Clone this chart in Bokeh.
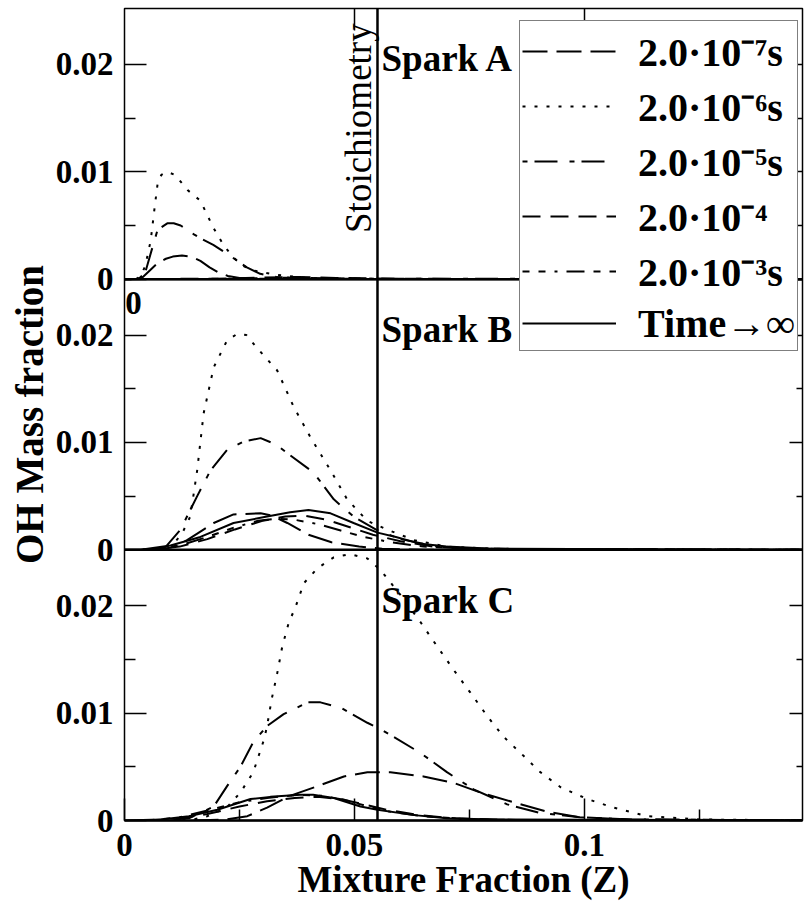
import math
from bokeh.plotting import figure
from bokeh.models import (Range1d, LinearAxis, FixedTicker, Span, Label,
                          Legend, LegendItem)
from bokeh.embed import file_html
from bokeh.resources import INLINE

FONT = "Liberation Serif"
Z_ST = 0.055          # stoichiometric mixture fraction
YMAX = 0.0252         # top of each panel
X_END = 0.1474

# ---------------- legend / series labels ----------------
LABELS = ["2.0\u00b710\u207b\u2077s", "2.0\u00b710\u207b\u2076s", "2.0\u00b710\u207b\u2075s",
          "2.0\u00b710\u207b\u2074", "2.0\u00b710\u207b\u00b3s", "Time\u2192\u221e"]
DASHES = ["25 9", "3 9", "5 7 23 12", "18 10", "7 9 7 9 3 9 18 9", "solid"]

# ---------------- Spark A ----------------
A_Z_7 = [0.0025, 0.004, 0.0055, 0.0072, 0.009, 0.0105, 0.0125, 0.0145, 0.0165, 0.0185, 0.0205, 0.0225, 0.025, 0.03, 0.15]
A_Y_7 = [0, 0.0002, 0.0008, 0.0015, 0.0019, 0.0021, 0.0022, 0.0021, 0.0017, 0.0011, 0.0006, 0.0003, 0.0001, 0.00003, 0]
A_Z_6 = [0.0025, 0.0035, 0.0045, 0.0057, 0.0065, 0.0072, 0.008, 0.0093, 0.011, 0.0137, 0.0165, 0.0193, 0.0215, 0.0237, 0.026, 0.028, 0.033, 0.04, 0.05, 0.15]
A_Y_6 = [0, 0.0003, 0.0012, 0.0036, 0.0065, 0.0089, 0.0097, 0.0100, 0.0097, 0.0083, 0.0073, 0.0048, 0.0032, 0.0020, 0.0012, 0.0008, 0.0004, 0.0001, 0.00002, 0]
A_Z_5 = [0.003, 0.0045, 0.0057, 0.0072, 0.0093, 0.0107, 0.0122, 0.015, 0.0165, 0.0193, 0.0222, 0.0266, 0.0295, 0.033, 0.04, 0.15]
A_Y_5 = [0, 0.0006, 0.0024, 0.0046, 0.0052, 0.0052, 0.0050, 0.0042, 0.0038, 0.0032, 0.0024, 0.0011, 0.0005, 0.0002, 0.00005, 0]
A_Z_4 = [0, 0.02, 0.03, 0.038, 0.046, 0.06, 0.15]
A_Y_4 = [0, 0.00005, 0.00015, 0.0002, 0.00012, 0.00003, 0]
A_Z_3 = [0, 0.02, 0.03, 0.036, 0.044, 0.06, 0.15]
A_Y_3 = [0, 0.00003, 0.0001, 0.00013, 0.00008, 0.00002, 0]
A_Z_I = [0, 0.15]
A_Y_I = [0, 0]

# ---------------- Spark B ----------------
B_Z_7 = [0.006, 0.01, 0.0136, 0.0165, 0.0194, 0.0237, 0.0296, 0.032, 0.0354, 0.04, 0.045, 0.051, 0.056, 0.065, 0.15]
B_Y_7 = [0, 0.0002, 0.0009, 0.0017, 0.0025, 0.0033, 0.0034, 0.0032, 0.0025, 0.0014, 0.0007, 0.0003, 0.0001, 0, 0]
B_Z_6 = [0.004, 0.008, 0.0107, 0.0125, 0.0143, 0.0158, 0.0172, 0.0194, 0.0223, 0.0245, 0.0265, 0.0288, 0.0332, 0.0368, 0.0404, 0.0448, 0.0484, 0.0528, 0.057, 0.063, 0.07, 0.08, 0.09, 0.15]
B_Y_6 = [0, 0.0001, 0.0006, 0.0015, 0.0031, 0.0074, 0.0127, 0.0170, 0.0195, 0.0201, 0.0200, 0.0188, 0.0167, 0.0133, 0.0105, 0.0074, 0.0047, 0.0027, 0.0019, 0.0009, 0.0003, 0.0001, 0.00003, 0]
B_Z_5 = [0.006, 0.009, 0.0122, 0.0158, 0.0187, 0.0223, 0.026, 0.0296, 0.033, 0.0354, 0.0411, 0.0455, 0.0498, 0.0546, 0.06, 0.067, 0.075, 0.15]
B_Y_5 = [0, 0.0003, 0.0019, 0.0050, 0.0074, 0.0093, 0.0101, 0.0104, 0.0098, 0.0090, 0.0072, 0.0047, 0.0031, 0.0019, 0.0010, 0.0004, 0.0001, 0]
B_Z_4 = [0.004, 0.012, 0.018, 0.024, 0.03, 0.035, 0.039, 0.044, 0.049, 0.054, 0.06, 0.067, 0.075, 0.15]
B_Y_4 = [0, 0.0003, 0.0010, 0.0019, 0.0027, 0.0031, 0.0032, 0.0028, 0.0021, 0.0014, 0.0008, 0.0003, 0.0001, 0]
B_Z_3 = [0.004, 0.012, 0.018, 0.024, 0.029, 0.033, 0.037, 0.042, 0.047, 0.052, 0.058, 0.065, 0.075, 0.15]
B_Y_3 = [0, 0.0004, 0.0012, 0.0021, 0.0027, 0.0029, 0.0028, 0.0024, 0.0018, 0.0012, 0.0007, 0.0003, 0.0001, 0]
B_Z_I = [0, 0.0035, 0.01, 0.0165, 0.0237, 0.031, 0.036, 0.04, 0.0448, 0.0498, 0.055, 0.059, 0.064, 0.07, 0.08, 0.15]
B_Y_I = [0, 0, 0.0004, 0.0012, 0.0025, 0.0031, 0.0035, 0.0037, 0.0034, 0.0025, 0.0016, 0.0012, 0.0006, 0.0003, 0.0001, 0]

# ---------------- Spark C ----------------
C_Z_7 = [0.015, 0.022, 0.0267, 0.031, 0.036, 0.042, 0.0477, 0.0528, 0.0578, 0.065, 0.0716, 0.0774, 0.0846, 0.092, 0.099, 0.11, 0.15]
C_Y_7 = [0, 0.0001, 0.0004, 0.0012, 0.0023, 0.0032, 0.0041, 0.0045, 0.0045, 0.0041, 0.0035, 0.0026, 0.0017, 0.0008, 0.0003, 0.0001, 0]
C_Z_6 = [0.01, 0.015, 0.018, 0.0222, 0.0252, 0.028, 0.0303, 0.031, 0.032, 0.0332, 0.0343, 0.0357, 0.0372, 0.039, 0.042, 0.0455, 0.049, 0.0528, 0.0557, 0.06, 0.0643, 0.068, 0.0716, 0.0752, 0.0789, 0.0824, 0.0868, 0.0904, 0.0948, 0.1006, 0.1063, 0.1137, 0.125, 0.15]
C_Y_6 = [0, 0.0001, 0.0004, 0.0012, 0.0026, 0.0045, 0.0075, 0.0088, 0.0113, 0.0137, 0.0162, 0.0184, 0.0199, 0.0221, 0.0235, 0.0245, 0.0248, 0.0244, 0.0233, 0.0210, 0.0185, 0.0162, 0.0140, 0.0119, 0.0097, 0.0078, 0.0060, 0.0045, 0.0031, 0.0020, 0.0012, 0.0004, 0.0001, 0]
C_Z_5 = [0.008, 0.014, 0.0194, 0.0223, 0.0252, 0.028, 0.031, 0.0346, 0.0398, 0.0426, 0.047, 0.0528, 0.0557, 0.0643, 0.0701, 0.0759, 0.0832, 0.0904, 0.099, 0.11, 0.15]
C_Y_5 = [0, 0.0002, 0.0013, 0.0032, 0.0050, 0.0073, 0.0088, 0.0099, 0.0110, 0.0110, 0.0105, 0.0091, 0.0085, 0.0063, 0.0045, 0.0029, 0.0015, 0.0007, 0.0003, 0.0001, 0]
C_Z_4 = [0.005, 0.012, 0.018, 0.025, 0.031, 0.037, 0.042, 0.047, 0.052, 0.057, 0.064, 0.072, 0.085, 0.15]
C_Y_4 = [0, 0.0002, 0.0006, 0.0013, 0.0018, 0.0021, 0.0022, 0.0020, 0.0015, 0.0010, 0.0005, 0.0002, 0.00005, 0]
C_Z_3 = [0.005, 0.012, 0.0187, 0.025, 0.031, 0.038, 0.043, 0.048, 0.053, 0.058, 0.065, 0.075, 0.09, 0.15]
C_Y_3 = [0, 0.0003, 0.0010, 0.0017, 0.0021, 0.0024, 0.0023, 0.0019, 0.0013, 0.0008, 0.0004, 0.0001, 0.00003, 0]
C_Z_I = [0, 0.008, 0.014, 0.0202, 0.0274, 0.0317, 0.0383, 0.041, 0.0455, 0.0513, 0.055, 0.063, 0.07, 0.08, 0.15]
C_Y_I = [0, 0.0001, 0.0004, 0.0010, 0.0020, 0.0022, 0.0024, 0.0024, 0.0021, 0.0013, 0.0010, 0.0005, 0.0002, 0.0001, 0]

PANELS = {
    "A": [(A_Z_7, A_Y_7), (A_Z_6, A_Y_6), (A_Z_5, A_Y_5), (A_Z_4, A_Y_4), (A_Z_3, A_Y_3), (A_Z_I, A_Y_I)],
    "B": [(B_Z_7, B_Y_7), (B_Z_6, B_Y_6), (B_Z_5, B_Y_5), (B_Z_4, B_Y_4), (B_Z_3, B_Y_3), (B_Z_I, B_Y_I)],
    "C": [(C_Z_7, C_Y_7), (C_Z_6, C_Y_6), (C_Z_5, C_Y_5), (C_Z_4, C_Y_4), (C_Z_3, C_Y_3), (C_Z_I, C_Y_I)],
}
PANEL_NAMES = {"A": "Spark A", "B": "Spark B", "C": "Spark C"}
Y_TICKS = [0, 0.01, 0.02]
Y_TICK_LABELS = ["0", "0.01", "0.02"]
Y_MINOR = [0.005, 0.015]
X_TICKS = [0, 0.05, 0.1]
X_TICK_LABELS = ["0", "0.05", "0.1"]
X_MINOR = [0.025, 0.075, 0.125]

p = figure(width=805, height=902, output_backend="svg", toolbar_location=None,
           x_range=Range1d(0, X_END), y_range=Range1d(0, 3 * YMAX),
           min_border_left=124, min_border_right=3, min_border_top=8, min_border_bottom=81,
           x_axis_location=None, y_axis_location=None)
p.grid.visible = False
p.outline_line_color = "black"
p.outline_line_width = 1.5
p.background_fill_color = "white"
p.border_fill_color = "white"

# one y range per stacked panel
p.extra_y_ranges = {
    "A": Range1d(-2 * YMAX, YMAX),
    "B": Range1d(-YMAX, 2 * YMAX),
    "C": Range1d(0, 3 * YMAX),
}
offsets = {"C": 0.0, "B": YMAX, "A": 2 * YMAX}

major, minor, overrides = [], [], {}
for name, off in offsets.items():
    for t, lab in zip(Y_TICKS, Y_TICK_LABELS):
        major.append(off + t)
        overrides[off + t] = lab
    minor += [off + m for m in Y_MINOR]


def style_axis(ax, major_in, minor_in):
    ax.major_tick_in = major_in
    ax.major_tick_out = 0
    ax.minor_tick_in = minor_in
    ax.minor_tick_out = 0
    ax.major_tick_line_color = "black"
    ax.minor_tick_line_color = "black"
    ax.major_tick_line_width = 1.5
    ax.minor_tick_line_width = 1.5
    ax.axis_line_color = None
    ax.major_label_text_font = FONT
    ax.major_label_text_font_size = "33px"
    ax.major_label_text_font_style = "bold"
    ax.major_label_text_color = "black"
    ax.axis_label_text_font = FONT
    ax.axis_label_text_font_style = "bold"
    ax.axis_label_text_color = "black"


left = LinearAxis(ticker=FixedTicker(ticks=major, minor_ticks=minor), major_label_overrides=overrides,
                  axis_label="OH Mass fraction")
style_axis(left, 22, 11)
left.major_label_standoff = 11
left.axis_label_text_font_size = "39px"
left.axis_label_standoff = 2
p.add_layout(left, "left")

right = LinearAxis(ticker=FixedTicker(ticks=major, minor_ticks=minor))
style_axis(right, 13, 6)
right.major_label_text_font_size = "0px"
right.major_label_standoff = 0
p.add_layout(right, "right")

x_over = {t: lab for t, lab in zip(X_TICKS, X_TICK_LABELS)}
bottom = LinearAxis(ticker=FixedTicker(ticks=X_TICKS, minor_ticks=X_MINOR), major_label_overrides=x_over,
                    axis_label="Mixture Fraction (Z)")
style_axis(bottom, 22, 11)
bottom.axis_line_color = "black"
bottom.axis_line_width = 2.5
bottom.major_label_standoff = 13
bottom.axis_label_text_font_size = "37px"
bottom.axis_label_standoff = 0
p.add_layout(bottom, "below")

top = LinearAxis(ticker=FixedTicker(ticks=X_TICKS[1:], minor_ticks=[]))
style_axis(top, 22, 11)
top.major_label_text_font_size = "0px"
top.major_label_standoff = 0
p.add_layout(top, "above")

# panel separators and stoichiometric line
for sep in (YMAX, 2 * YMAX):
    p.add_layout(Span(location=sep, dimension="width", line_color="black", line_width=2.5))
p.add_layout(Span(location=Z_ST, dimension="height", line_color="black", line_width=2.5))

# curves
legend_renderers = []
for name, series in PANELS.items():
    for (zs, ys), dash in zip(series, DASHES):
        r = p.line(zs, ys, y_range_name=name, line_color="black", line_width=2, line_dash=dash)
        if name == "C":
            legend_renderers.append(r)
    p.add_layout(Label(x=Z_ST, y=0.0205, x_offset=4, y_range_name=name, text=PANEL_NAMES[name],
                       text_font=FONT, text_font_size="37px", text_font_style="bold",
                       text_color="black", text_baseline="alphabetic", text_align="left"))

p.add_layout(Label(x=Z_ST - 0.0041, y=0.0043, y_range_name="A", angle=math.pi / 2,
                   text="Stoichiometry", text_font=FONT, text_font_size="37px",
                   text_color="black", text_align="left", text_baseline="alphabetic"))

# stray "0" x tick label under Spark A
p.add_layout(Label(x=0, y=0.0230, x_offset=9, y_range_name="B", text="0", text_font=FONT,
                   text_font_size="33px", text_font_style="bold", text_color="black",
                   text_align="center", text_baseline="middle"))

legend = Legend(items=[LegendItem(label=l, renderers=[r]) for l, r in zip(LABELS, legend_renderers)],
                location=(395, 469), label_text_font=FONT, label_text_font_size="40px",
                label_text_font_style="bold", label_text_color="black",
                glyph_width=94, glyph_height=50, label_height=50,
                label_standoff=22, padding=2, spacing=0, margin=0,
                border_line_color="black", border_line_width=1.5,
                background_fill_color="white", background_fill_alpha=1.0)
p.add_layout(legend, "center")

open("out.html", "w").write(file_html(p, INLINE))
